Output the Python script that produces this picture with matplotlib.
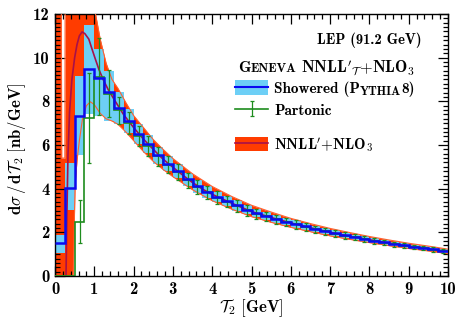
import numpy as np
import matplotlib
matplotlib.use('Agg')
import matplotlib.pyplot as plt
from matplotlib.patches import Patch
from matplotlib.lines import Line2D
from matplotlib.text import Annotation
from matplotlib.ticker import MultipleLocator

plt.rcParams['font.family'] = 'cmb10'
plt.rcParams['mathtext.fontset'] = 'cm'
plt.rcParams['axes.unicode_minus'] = False
plt.rcParams['axes.formatter.use_mathtext'] = False

# bins of 0.25 GeV in T2
bin_edges = np.linspace(0, 10, 41)

# Geneva showered (Pythia8) central values and uncertainty band
shower = [1.50, 4.02, 7.33, 9.47, 9.08, 8.42, 7.68, 7.08, 6.50, 6.04,
          5.54, 5.15, 4.81, 4.43, 4.10, 3.86, 3.62, 3.44, 3.23, 3.03,
          2.88, 2.75, 2.62, 2.49, 2.38, 2.27, 2.16, 2.06, 1.95, 1.86,
          1.78, 1.70, 1.61, 1.54, 1.47, 1.40, 1.34, 1.28, 1.22, 1.14]
shower_lo = [1.05, 3.02, 5.54, 7.40, 7.35, 7.10, 6.95, 6.55, 6.05, 5.62,
             5.15, 4.79, 4.47, 4.12, 3.81, 3.59, 3.37, 3.20, 3.00, 2.82,
             2.68, 2.56, 2.44, 2.32, 2.21, 2.11, 2.01, 1.92, 1.81, 1.73,
             1.66, 1.58, 1.50, 1.43, 1.37, 1.30, 1.25, 1.19, 1.13, 1.06]
shower_hi = [1.88, 5.17, 9.15, 11.50, 10.40, 9.40, 8.45, 7.65, 6.95, 6.46,
             5.93, 5.51, 5.15, 4.74, 4.39, 4.13, 3.87, 3.68, 3.46, 3.24,
             3.08, 2.94, 2.80, 2.66, 2.55, 2.43, 2.31, 2.20, 2.09, 1.99,
             1.90, 1.82, 1.72, 1.65, 1.57, 1.50, 1.43, 1.37, 1.31, 1.22]

# Geneva partonic with errors
parton = [0.0, 0.0, 2.49, 7.22, 9.13, 8.35, 7.60, 7.00, 6.42, 5.97,
          5.48, 5.10, 4.76, 4.39, 4.07, 3.83, 3.59, 3.41, 3.20, 3.01,
          2.86, 2.73, 2.60, 2.47, 2.36, 2.25, 2.14, 2.04, 1.93, 1.85,
          1.77, 1.69, 1.60, 1.53, 1.46, 1.39, 1.33, 1.27, 1.21, 1.13]
parton_err = [0.0, 0.0, 1.00, 2.06, 1.75, 1.08, 0.62, 0.50, 0.46, 0.46,
              0.43, 0.40, 0.38, 0.35, 0.32, 0.31, 0.29, 0.27, 0.26, 0.24,
              0.23, 0.22, 0.21, 0.20, 0.19, 0.18, 0.17, 0.16, 0.155, 0.15,
              0.14, 0.135, 0.13, 0.12, 0.115, 0.11, 0.105, 0.10, 0.10, 0.09]

# NNLL'+NLO3 central curve
nnll_x = [0.28, 0.30, 0.33, 0.37, 0.43, 0.50, 0.56, 0.62, 0.69, 0.76,
          0.86, 0.95, 1.02, 1.12, 1.23, 1.35, 1.50, 1.75, 2.00, 2.25,
          2.50, 2.75, 3.00, 3.25, 3.50, 3.75, 4.00, 4.50, 5.00, 5.50,
          6.00, 6.50, 7.00, 7.50, 8.00, 8.50, 9.00, 9.50, 10.0]
nnll_y = [0.0, 2.5, 5.5, 7.5, 9.0, 10.0, 10.6, 11.0, 11.18, 11.1,
          10.85, 10.35, 9.97, 9.45, 8.98, 8.55, 8.10, 7.38, 6.80, 6.27,
          5.80, 5.35, 4.98, 4.62, 4.28, 3.98, 3.74, 3.33, 2.95, 2.68,
          2.43, 2.21, 2.00, 1.82, 1.66, 1.51, 1.37, 1.25, 1.12]

# NNLL'+NLO3 uncertainty band
band_x = [0.0, 0.16, 0.17, 0.25, 0.26, 0.46, 0.47, 0.51, 0.56, 0.62,
          0.70, 0.80, 0.90, 1.00, 1.15, 1.30, 1.45, 1.60, 1.80, 2.00,
          2.25, 2.50, 2.75, 3.00, 3.50, 4.00, 4.50, 5.00, 5.50, 6.00,
          6.50, 7.00, 7.50, 8.00, 8.50, 9.00, 9.50, 10.0]
band_lo = [0.0, 0.0, 0.0, 0.0, 0.0, 0.0, 0.5, 4.1, 5.3, 6.2,
           7.2, 7.8, 7.98, 7.85, 7.45, 7.2, 7.1, 6.95, 6.6, 6.2,
           5.7, 5.25, 4.88, 4.55, 3.95, 3.45, 3.06, 2.72, 2.46, 2.23,
           2.03, 1.84, 1.68, 1.53, 1.39, 1.26, 1.15, 1.02]
band_hi = [14, 14, 5.4, 5.4, 14, 14, 14, 14, 14, 14,
           14, 14, 14, 12.3, 10.85, 9.75, 9.0, 8.6, 7.95, 7.35,
           6.8, 6.25, 5.8, 5.38, 4.68, 4.1, 3.64, 3.24, 2.93, 2.64,
           2.4, 2.18, 1.99, 1.81, 1.65, 1.5, 1.37, 1.23]

c_red = '#ff3c00'
c_redline = '#ff6030'
c_central = '#a8104a'
c_lblue = '#6dcff6'
c_blue = '#0a0af0'
c_green = '#1e8c1e'

W, H = 457, 322
fig = plt.figure(figsize=(W / 100, H / 100), dpi=100)
ax = fig.add_axes([55 / W, 46 / H, 393 / W, 262 / H])

ax.fill_between(band_x, band_lo, band_hi, color=c_red, lw=0, zorder=1)
ax.stairs(shower_hi, bin_edges, baseline=shower_lo, fill=True, color=c_lblue, lw=0, zorder=2)
ax.plot(band_x, band_lo, color=c_redline, lw=0.8, zorder=3)
ax.plot(band_x, band_hi, color=c_redline, lw=0.8, zorder=3)
ax.plot(nnll_x, nnll_y, color=c_central, lw=1.2, zorder=4)

centers = 0.5 * (bin_edges[1:] + bin_edges[:-1])
ax.stairs(parton, bin_edges, baseline=None, color=c_green, lw=1.2, zorder=5)
eb = ax.errorbar(centers[2:], parton[2:], yerr=parton_err[2:], fmt='none',
                 ecolor=c_green, elinewidth=0.9, capsize=1.6, capthick=0.9, zorder=5)
ax.stairs(shower, bin_edges, baseline=None, color=c_blue, lw=1.8, zorder=6)

ax.set_xlim(0, 10)
ax.set_ylim(0, 12)
ax.xaxis.set_major_locator(MultipleLocator(1))
ax.xaxis.set_minor_locator(MultipleLocator(0.2))
ax.yaxis.set_major_locator(MultipleLocator(2))
ax.yaxis.set_minor_locator(MultipleLocator(0.2))
ax.tick_params(which='both', direction='in', top=True, right=True, width=0.9, color='black')
ax.tick_params(which='major', length=7, labelsize=12, pad=4)
ax.tick_params(which='minor', length=3.5)
for s in ax.spines.values():
    s.set_linewidth(1.0)

ax.set_xlabel(r'$\mathcal{T}_{\mathbf{2}}\ \mathbf{[GeV]}$', fontsize=12)
ax.set_ylabel(r'$\mathbf{d}\sigma\,\mathbf{/\,d}\mathcal{T}_{\mathbf{2}}\ \mathbf{[nb/GeV]}$', fontsize=12)
ax.xaxis.set_label_coords(0.5, -0.08)
ax.yaxis.set_label_coords(-0.069, 0.485)

fig.text(422 / W, 1 - 40 / H, 'LEP (91.2 GeV)', ha='right', va='center', fontsize=10.5)

# title with small caps "Geneva"
yb = 1 - 71.7 / H
tg = fig.text(238 / W, yb, 'G', ha='left', va='baseline', fontsize=11.5)
te = fig.add_artist(Annotation('ENEVA', xy=(1, yb), xycoords=(tg, 'figure fraction'),
                               ha='left', va='baseline', fontsize=9.2))
fig.add_artist(Annotation(r"$\mathbf{NNLL}'_{\mathcal{T}}\mathbf{+NLO}_{\mathbf{3}}$", xy=(1, yb),
                          xycoords=(te, 'figure fraction'), xytext=(3.5, 0),
                          textcoords='offset points', ha='left', va='baseline', fontsize=11.8))

fs = 11
fs_px = fs * 100 / 72
leg_kw = dict(loc='center left', bbox_transform=fig.transFigure, frameon=False,
              borderpad=0, borderaxespad=0, handlelength=33 / fs_px,
              handleheight=16 / fs_px, handletextpad=6 / fs_px, fontsize=fs)

h_show = (Patch(facecolor=c_lblue, lw=0), Line2D([], [], color=c_blue, lw=1.5))
leg1 = ax.legend([h_show], ['Showered (P'], bbox_to_anchor=(235 / W, 1 - 88.5 / H), **leg_kw)
ax.add_artist(leg1)
lt = leg1.get_texts()[0]
ty = fig.add_artist(Annotation('YTHIA', xy=(1, 0), xycoords=lt, xytext=(0, -0.9),
                               textcoords='offset points', ha='left', va='bottom', fontsize=8.8))
fig.add_artist(Annotation('8)', xy=(1, 0), xycoords=ty, xytext=(0, 0.9),
                          textcoords='offset points', ha='left', va='bottom', fontsize=fs))

h_part = (Line2D([], [], color=c_green, lw=1.2), eb)
leg2 = ax.legend([h_part], ['Partonic'], bbox_to_anchor=(235 / W, 1 - 110 / H), **leg_kw)
ax.add_artist(leg2)

h_nnll = (Patch(facecolor=c_red, lw=0), Line2D([], [], color=c_central, lw=1.2))
ax.legend([h_nnll], [r"$\mathbf{NNLL}'\mathbf{+NLO}_{\mathbf{3}}$"],
          bbox_to_anchor=(235 / W, 1 - 144.7 / H), **leg_kw)

fig.savefig('out.png', dpi=100)
